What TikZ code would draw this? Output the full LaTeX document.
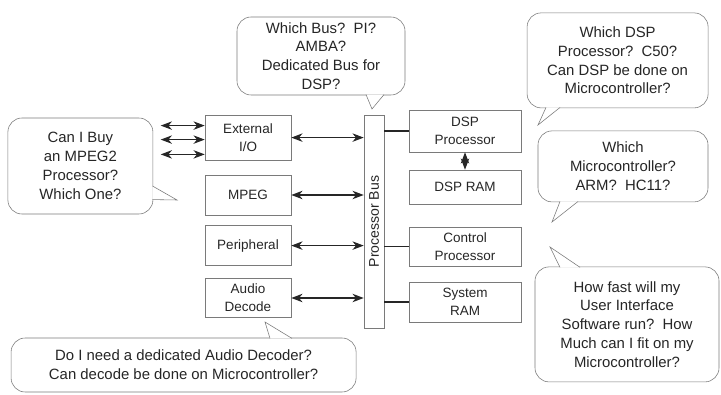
\documentclass[tikz,border=0pt]{standalone}
\usepackage{fontspec}
\setmainfont{Liberation Sans}
\usetikzlibrary{arrows.meta,positioning,calc}
\definecolor{edge}{HTML}{7A7A7A}
\definecolor{ink}{HTML}{262626}
\newcommand{\bubtail}[3]{\fill[white] #1 -- #2 -- #3 -- cycle; \draw[edge] #1 -- #2 -- #3;}

\begin{document}
\begin{tikzpicture}[>={Stealth[length=8pt,width=6pt,inset=2.5pt]},text=ink,
  blk/.style={draw=edge,minimum width=2.15cm,align=center,inner sep=1pt,font=\fontsize{9.6}{12.8}\selectfont},
  rblk/.style={blk,minimum width=2.8cm},
  bub/.style={draw=edge,fill=white,rounded corners=10pt,align=center,inner sep=1pt,font=\fontsize{10.6}{13.4}\selectfont},
  link/.style={<->,thick,ink},
  tap/.style={thick,ink}]
  \useasboundingbox (0,0) rectangle (18.025,9.85);
  % blocks on the left
  \node[blk,minimum height=1.125cm] (ext) at (6.2,6.41) {External\\I/O};
  \node[blk,minimum height=1cm] (mpeg) at (6.2,4.975) {MPEG};
  \node[blk,minimum height=1cm] (peri) at (6.2,3.71) {Peripheral};
  \node[blk,minimum height=0.97cm] (audio) at (6.2,2.4) {Audio\\Decode};
  % bus
  \node[draw=edge,minimum width=0.5cm,minimum height=5.33cm,
    label={[rotate=90,font=\fontsize{10}{12}\selectfont]center:Processor Bus}] (bus) at (9.35,4.31) {};
  % blocks on the right
  \node[rblk,minimum height=1.05cm] (dspp) at (11.625,6.575) {DSP\\Processor};
  \node[rblk,minimum height=0.85cm] (dspram) at (11.625,5.175) {DSP RAM};
  \node[rblk,minimum height=0.975cm] (ctrl) at (11.625,3.69) {Control\\Processor};
  \node[rblk,minimum height=1cm] (sysram) at (11.625,2.3) {System\\RAM};
  \foreach \b in {ext,mpeg,peri,audio} \draw[link] (\b) -- (\b -| bus.west);
  \foreach \b in {dspp,ctrl,sysram} \draw[tap] (\b) -- (\b -| bus.east);
  \draw[link] (dspp) -- (dspram);
  \foreach \i/\dy in {1/0.3,2/-0.05,3/-0.42} {
    \coordinate (io\i) at ([xshift=-1.1cm,yshift=\dy cm]ext.west);
    \draw[link] (io\i) -- (io\i -| ext.west);
  }
  % questions
  \node[bub,minimum width=4.2cm,minimum height=1.95cm] (busq) at (8.025,8.45)
    {Which Bus?\ \ PI?\\AMBA?\\Dedicated Bus for\\DSP?};
  \node[bub,minimum width=3.625cm,minimum height=2.4cm] (mpegq) at (2.01,5.7)
    {Can I Buy\\an MPEG2\\Processor?\\Which One?};
  \node[bub,minimum width=4.525cm,minimum height=2.375cm] (dspq) at (15.44,8.34)
    {Which DSP\\Processor?\ \ C50?\\Can DSP be done on\\Microcontroller?};
  \node[bub,minimum width=4.25cm,minimum height=1.775cm] (microq) at (15.575,5.69)
    {Which\\Microcontroller?\\ARM?\ \ HC11?};
  \node[bub,minimum width=4.6cm,minimum height=2.875cm] (swq) at (15.675,1.74)
    {How fast will my\\User Interface\\Software run?\ \ How\\Much can I fit on my\\Microcontroller?};
  \node[bub,minimum width=8.625cm,minimum height=1.35cm] (audioq) at (4.59,0.725)
    {Do I need a dedicated Audio Decoder?\\Can decode be done on Microcontroller?};
  \coordinate (busqtip) at (9.3,7.125);
  \coordinate (mpegqtip) at (4.425,4.85);
  \coordinate (dspqtip) at (13.45,6.725);
  \coordinate (microqtip) at (13.8,4.3);
  \coordinate (swqtip) at (13.75,3.675);
  \coordinate (audioqtip) at (6.625,1.8);
  \bubtail{([xshift=1.125cm,yshift=0.5pt]busq.south)}{(busqtip)}{([xshift=1.575cm,yshift=0.5pt]busq.south)}
  \bubtail{([yshift=-0.5cm,xshift=-0.5pt]mpegq.east)}{(mpegqtip)}{([yshift=-0.84cm,xshift=-0.5pt]mpegq.east)}
  \bubtail{([xshift=-1.79cm,yshift=0.5pt]dspq.south)}{(dspqtip)}{([xshift=-1.44cm,yshift=0.5pt]dspq.south)}
  \bubtail{([xshift=-1.575cm,yshift=0.5pt]microq.south)}{(microqtip)}{([xshift=-1.125cm,yshift=0.5pt]microq.south)}
  \bubtail{([xshift=-1.675cm,yshift=-0.5pt]swq.north)}{(swqtip)}{([xshift=-1.175cm,yshift=-0.5pt]swq.north)}
  \bubtail{([xshift=2.16cm,yshift=-0.5pt]audioq.north)}{(audioqtip)}{([xshift=2.71cm,yshift=-0.5pt]audioq.north)}
\end{tikzpicture}
\end{document}
